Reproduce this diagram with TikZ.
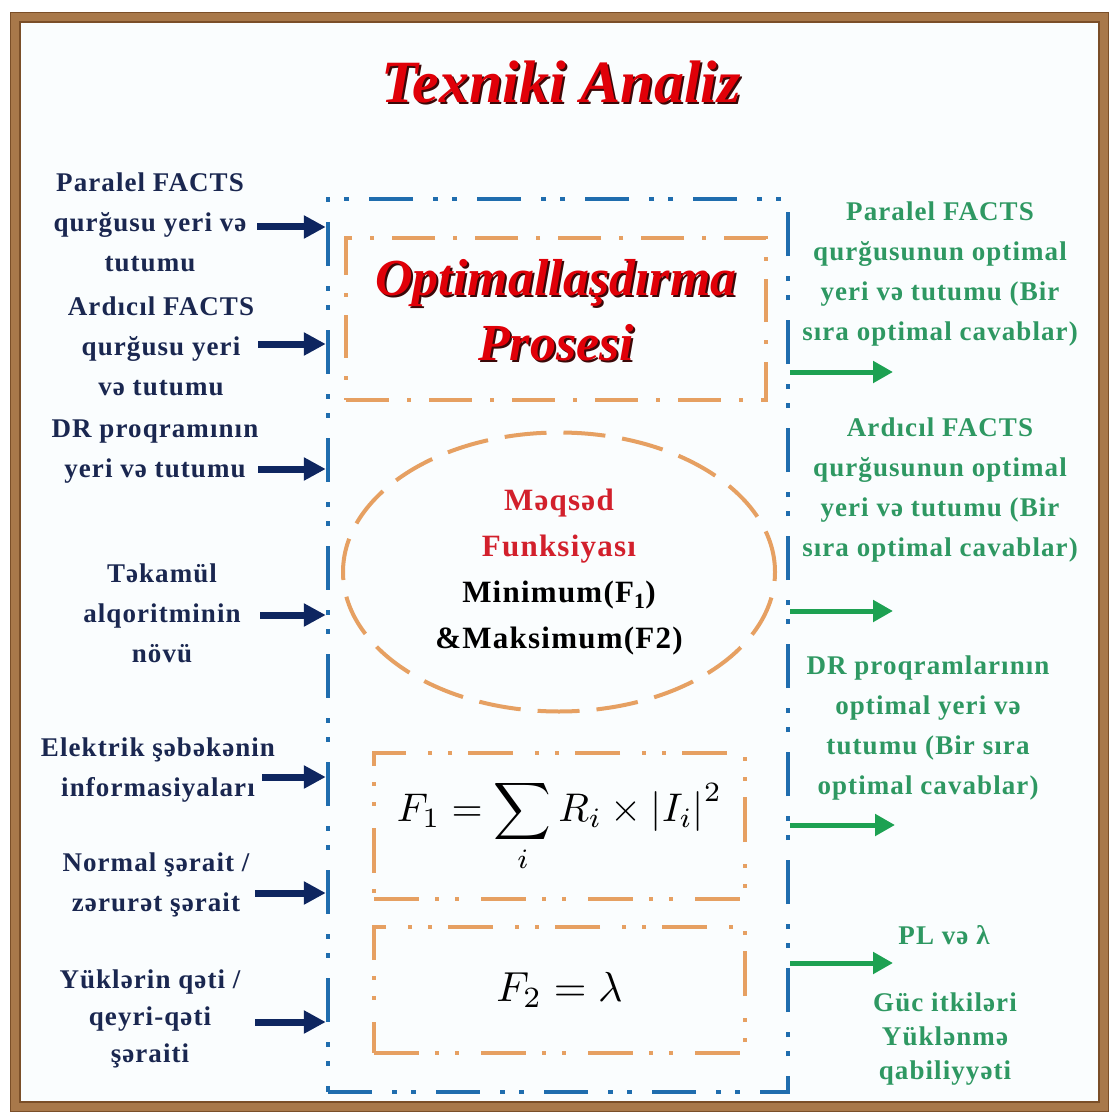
\documentclass[tikz,border=0pt]{standalone}
\usepackage{fontspec}
\setmainfont{Liberation Serif}
\newfontfamily\lblfont[LetterSpace=4]{Liberation Serif}
\usetikzlibrary{arrows.meta,shapes.geometric}
\definecolor{framebrown}{HTML}{A8784A}
\definecolor{framedark}{HTML}{7A4E28}
\definecolor{paper}{HTML}{FAFDFE}
\definecolor{titlered}{HTML}{E00008}
\definecolor{shadered}{HTML}{3A0808}
\definecolor{goalred}{HTML}{D2202C}
\definecolor{navytext}{HTML}{1A2750}
\definecolor{navyarrow}{HTML}{0E2660}
\definecolor{greentext}{HTML}{2E9862}
\definecolor{greenarrow}{HTML}{1DA152}
\definecolor{frameblue}{HTML}{1F6DAE}
\definecolor{boxorange}{HTML}{E6A062}

\begin{document}
\begin{tikzpicture}[x=1pt,y=-1pt,
  bluebox/.style={draw=frameblue,line width=4.5pt,dash pattern=on 44pt off 20pt on 5pt off 14pt on 5pt off 20pt},
  optbox/.style={draw=boxorange,line width=4pt,dash pattern=on 43pt off 18pt on 4pt off 18pt},
  fbox/.style={draw=boxorange,line width=4pt,dash pattern=on 45pt off 16pt on 4pt off 16pt on 4pt off 22pt},
  goalbox/.style={draw=boxorange,line width=4pt,ellipse,dash pattern=on 42pt off 17pt},
  inarrow/.style={draw=navyarrow,line width=7pt,-{Triangle[length=22pt,width=22pt]}},
  outarrow/.style={draw=greenarrow,line width=5pt,-{Triangle[length=20pt,width=21pt]}},
  lefttext/.style={align=center,text=navytext,font=\lblfont\bfseries\fontsize{27}{40}\selectfont},
  righttext/.style={align=center,text=greentext,font=\lblfont\bfseries\fontsize{27}{40}\selectfont},
  bigred/.style={align=center,font=\bfseries\itshape}]
\useasboundingbox (0,0) rectangle (1110,1115);
\fill[white] (0,0) rectangle (1110,1115);
\fill[paper] (20,22) rectangle (1100,1102);
\draw[framebrown,line width=10pt] (15,17) rectangle (1104,1107);
\draw[framedark,line width=2pt] (20,22) rectangle (1099,1102);
\draw[framedark,line width=1.5pt] (10.5,12.5) rectangle (1108.5,1111.5);

\node[bigred,text=shadered,font=\bfseries\itshape\fontsize{60}{70}\selectfont] (titleshade) at (563,84) {Texniki Analiz};
\node[bigred,text=titlered,font=\bfseries\itshape\fontsize{60}{70}\selectfont] (title) at (561,82) {Texniki Analiz};

\node[bluebox,minimum width=460,minimum height=893] (frame) at (558,645.5) {};
\node[optbox,minimum width=420,minimum height=162] (opt) at (556,319) {};
\node[bigred,text=shadered,font=\bfseries\itshape\fontsize{52}{65}\selectfont] (optshade) at (558,312) {Optimallaşdırma\\Prosesi};
\node[bigred,text=titlered,font=\bfseries\itshape\fontsize{52}{65}\selectfont] (opttext) at (556,310) {Optimallaşdırma\\Prosesi};
\node[goalbox,minimum width=432,minimum height=279,align=center,font=\lblfont\bfseries\fontsize{31}{46}\selectfont] (goal) at (559,572)
  {\textcolor{goalred}{Məqsəd}\\\textcolor{goalred}{Funksiyası}\\Minimum(F\textsubscript{1})\\\&Maksimum(F2)};
\node[fbox,minimum width=371,minimum height=146] (fone) at (559.5,826) {};
\node[scale=4] (fonetext) at (fone) {$\displaystyle F_1=\sum_i R_i\times\left|I_i\right|^2$};
\node[fbox,minimum width=371,minimum height=126] (ftwo) at (559.5,990) {};
\node[scale=4.2] (ftwotext) at (ftwo) {$F_2=\lambda$};

\node[lefttext] (in1) at (150,222) {Paralel FACTS\\qurğusu yeri və\\tutumu};
\node[lefttext] (in2) at (161,346) {Ardıcıl FACTS\\qurğusu yeri\\və tutumu};
\node[lefttext] (in3) at (155,452) {DR proqramının\\yeri və tutumu};
\node[lefttext] (in4) at (162,613) {Təkamül\\alqoritminin\\növü};
\node[lefttext] (in5) at (158,770) {Elektrik şəbəkənin\\informasiyaları};
\node[lefttext] (in6) at (156,885) {Normal şərait /\\zərurət şərait};
\node[lefttext,font=\lblfont\bfseries\fontsize{27}{37}\selectfont] (in7) at (150,1019) {Yüklərin qəti /\\qeyri-qəti\\şəraiti};

\coordinate (s1) at (257,227);
\coordinate (s2) at (258,344);
\coordinate (s3) at (258,469);
\coordinate (s4) at (260,615);
\coordinate (s5) at (262,777);
\coordinate (s6) at (255,893);
\coordinate (s7) at (255,1022);
\foreach \s in {s1,s2,s3,s4,s5,s6,s7}
  \draw[inarrow] (\s) -- (\s -| frame.west);

\node[righttext] (out1) at (940,274) {Paralel FACTS\\qurğusunun optimal\\yeri və tutumu (Bir\\sıra optimal cavablar)};
\node[righttext] (out2) at (940,490) {Ardıcıl FACTS\\qurğusunun optimal\\yeri və tutumu (Bir\\sıra optimal cavablar)};
\node[righttext] (out3) at (928,728) {DR proqramlarının\\optimal yeri və\\tutumu (Bir sıra\\optimal cavablar)};
\node[righttext] (out4) at (944,935) {PL və λ};
\node[righttext,font=\lblfont\bfseries\fontsize{27}{34}\selectfont] (out5) at (945,1039) {Güc itkiləri\\Yüklənmə\\qabiliyyəti};

\coordinate (t1) at (893,372);
\coordinate (t2) at (893,611);
\coordinate (t3) at (895,825);
\coordinate (t4) at (893,963);
\foreach \t in {t1,t2,t3,t4}
  \draw[outarrow] (\t -| frame.east) -- (\t);
\end{tikzpicture}
\end{document}
